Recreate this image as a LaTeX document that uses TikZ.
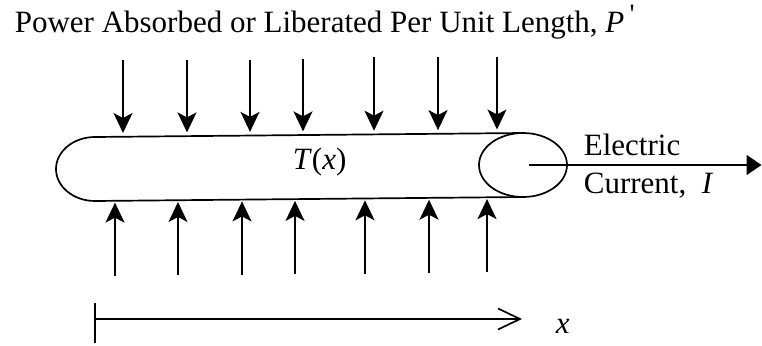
\documentclass[tikz,border=0pt]{standalone}
\usepackage{fontspec}
\setmainfont{Liberation Serif}
\newfontfamily\primefont{Liberation Serif}[Ligatures=TeXOff]
\usetikzlibrary{arrows.meta}
\begin{document}
\begin{tikzpicture}[x=1pt,y=-1pt,line width=1.7pt,
  lbl/.style={inner sep=0pt,anchor=base west,font=\fontsize{31}{36}\selectfont},
  flux/.style={-{Stealth[length=20pt,width=19pt,inset=5pt]}},
  current/.style={-{Triangle[length=15pt,width=20pt]}},
  axis/.style={-{Straight Barb[length=22pt,width=21pt]}}]
\useasboundingbox (0,0) rectangle (762,345);
% title
\node[lbl] (title) at (14,33) {Power Absorbed or Liberated Per Unit Length, \textit{P}\,\raisebox{9pt}{\fontsize{28}{28}\selectfont\primefont '}};
% tube
\draw (523,133) -- (95,137) .. controls (73.5,137) and (56,151.3) .. (56,169)
      .. controls (56,186.7) and (73.5,201) .. (95,201) -- (523,197);
\coordinate (ec) at (523,165);
\draw (ec) ellipse [x radius=44, y radius=32];
\node[lbl] (T) at (292,169) {\textit{T}(\textit{x})};
% top arrows
\foreach \i/\x/\ya/\yb in {1/123/60/133.0,2/187/60/132.4,3/250/60/131.9,4/303/59/131.4,5/374/57/130.7,6/438/57/130.1,7/497/57/129.5}{
  \coordinate (ts\i) at (\x,\ya);
  \coordinate (te\i) at (\x,\yb);
  \draw[flux] (ts\i) -- (te\i);
}
% bottom arrows
\foreach \i/\x/\ya/\yb in {1/115/276/202.6,2/178/275/202.0,3/242/275/201.4,4/295/274/200.9,5/365/274/200.3,6/429/273/199.7,7/487/272/199.1}{
  \coordinate (bs\i) at (\x,\ya);
  \coordinate (be\i) at (\x,\yb);
  \draw[flux] (bs\i) -- (be\i);
}
% electric current
\coordinate (cur0) at (529,165);
\coordinate (cur1) at (761.5,165);
\draw[current] (cur0) -- (cur1);
\node[lbl] (elec) at (583,155) {Electric};
\node[lbl] (curr) at (583,193) {Current,\ \ \textit{I}};
% x axis
\coordinate (bar0) at (95,303);
\coordinate (bar1) at (95,343);
\draw (bar0) -- (bar1);
\coordinate (ax0) at (95,319);
\coordinate (ax1) at (522,319);
\draw[axis] (ax0) -- (ax1);
\node[lbl] (xl) at (555,333) {\textit{x}};
\end{tikzpicture}
\end{document}
